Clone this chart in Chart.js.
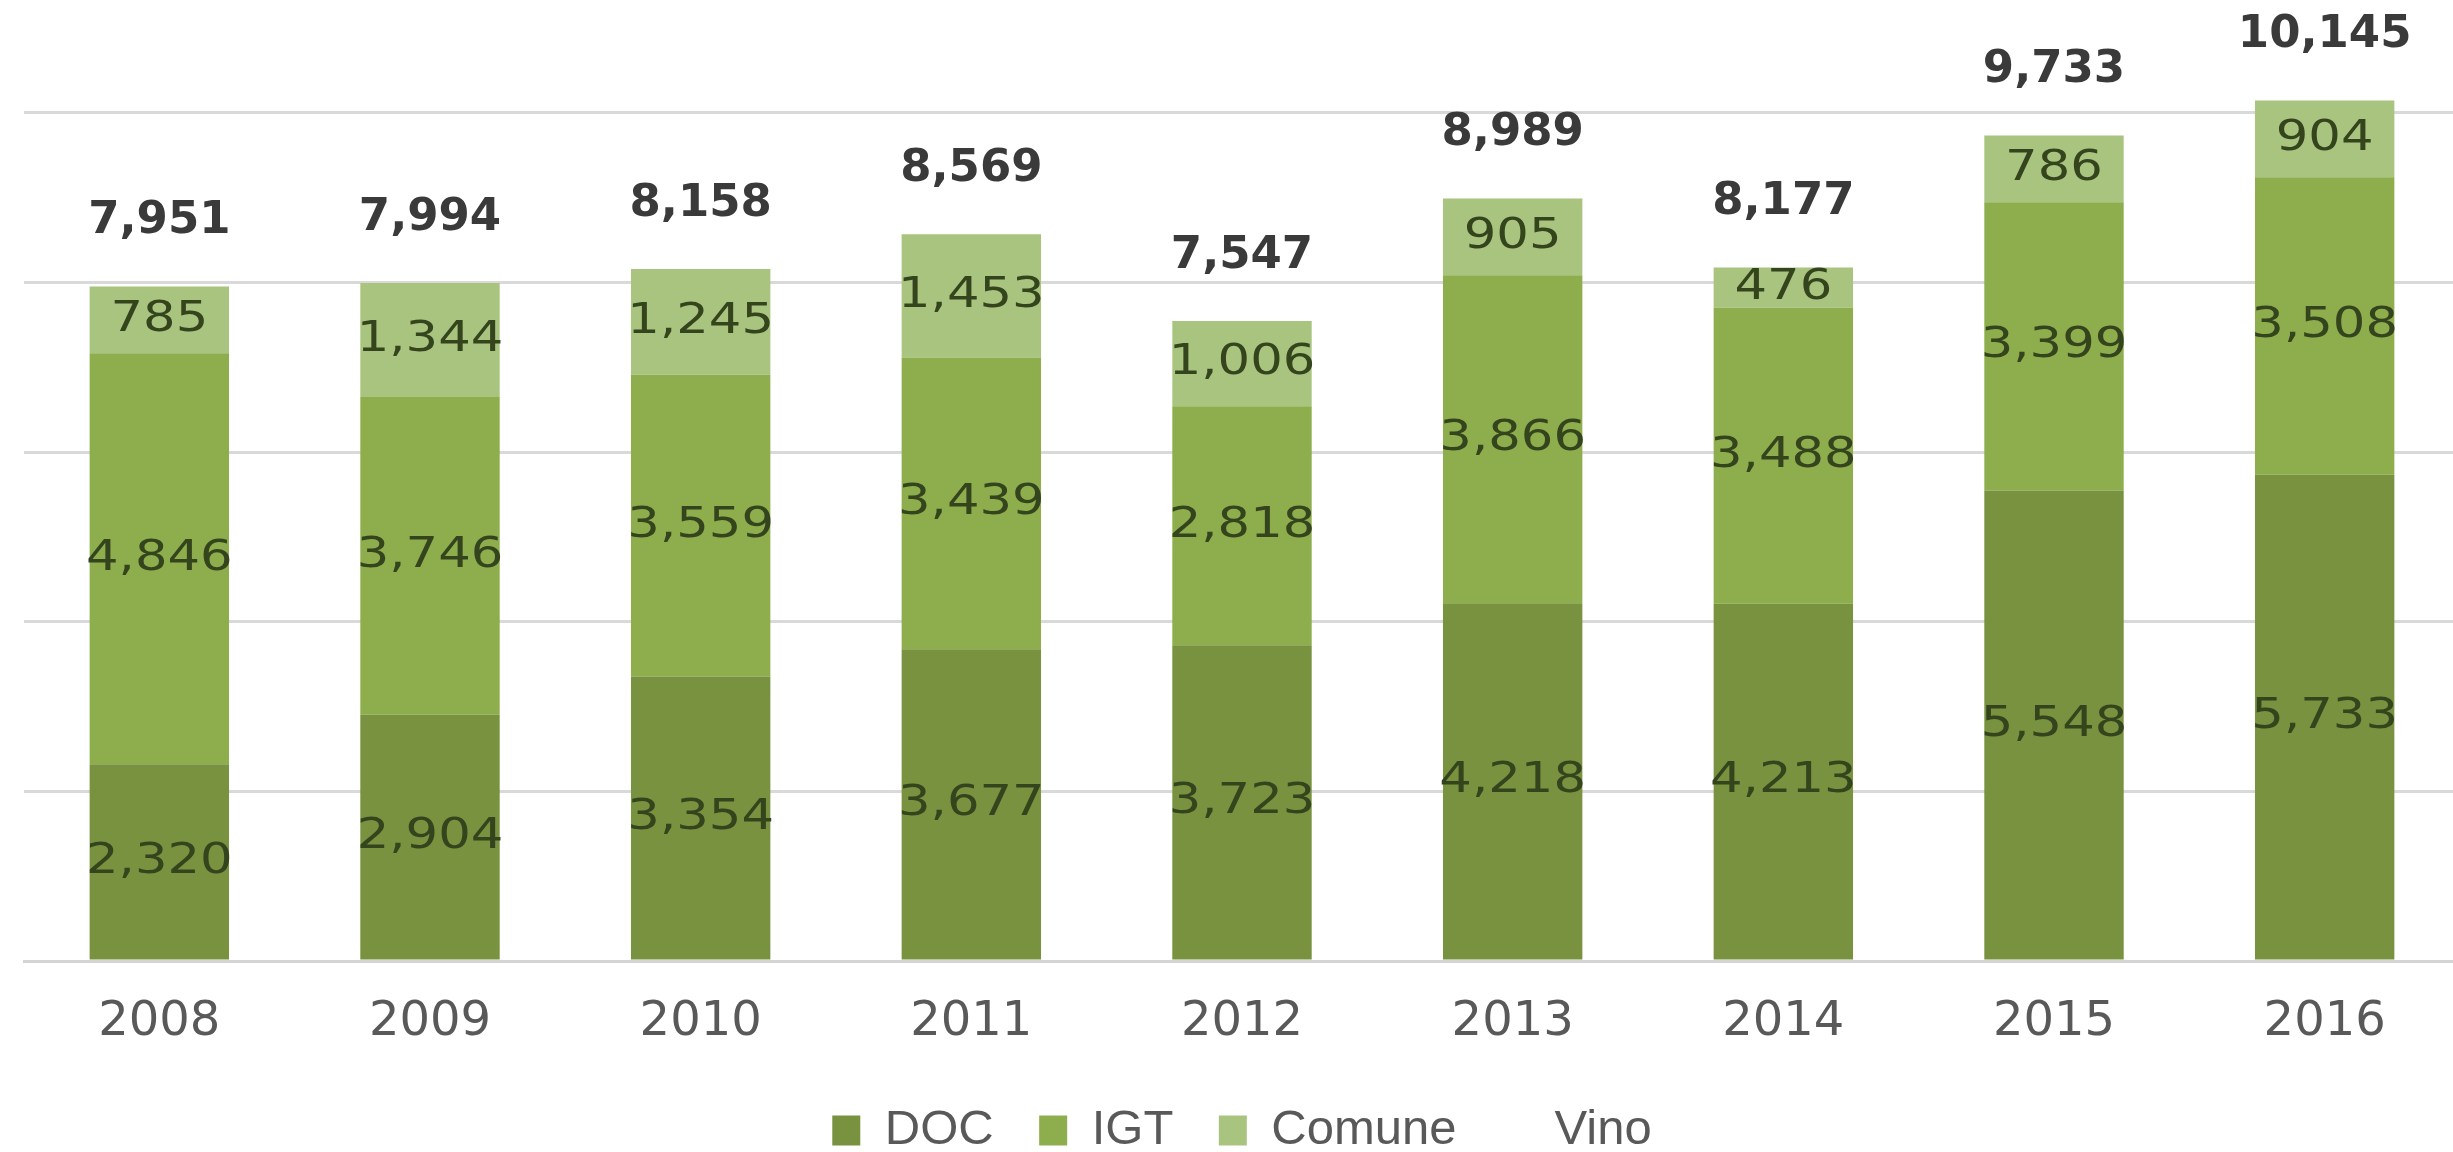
<!DOCTYPE html>
<html>
<head>
<meta charset="utf-8">
<script src="https://cdn.jsdelivr.net/npm/chart.js@4/dist/chart.umd.min.js"></script>
<style>
  html, body { margin: 0; padding: 0; overflow: hidden; background: #ffffff; }
  #wrap { position: absolute; left: 0; top: 0; width: 2460px; height: 1152px; }
</style>
</head>
<body>
<div id="wrap"><canvas id="c" width="2460" height="1152"></canvas></div>
<script>
const years = ['2008', '2009', '2010', '2011', '2012', '2013', '2014', '2015', '2016'];
const doc = [2320, 2904, 3354, 3677, 3723, 4218, 4213, 5548, 5733];
const igt = [4846, 3746, 3559, 3439, 2818, 3866, 3488, 3399, 3508];
const comune = [785, 1344, 1245, 1453, 1006, 905, 476, 786, 904];
const vino = [7951, 7994, 8158, 8569, 7547, 8989, 8177, 9733, 10145];
const seriesNames = ['DOC', 'IGT', 'Comune', 'Vino'];
const yTicks = [0, 2000, 4000, 6000, 8000, 10000];

const fmt = v => v.toLocaleString('en-US');

const labelPlugin = {
  id: 'segLabels',
  afterDatasetsDraw(chart) {
    const ctx = chart.ctx;
    ctx.save();
    ctx.textAlign = 'center';
    ctx.textBaseline = 'middle';
    chart.data.datasets.forEach((ds, di) => {
      const meta = chart.getDatasetMeta(di);
      if (meta.type === 'bar') {
        ctx.font = '42px "DejaVu Sans"';
        ctx.fillStyle = '#34441d';
        meta.data.forEach((el, i) => {
          const y = (el.y + el.base) / 2;
          ctx.save();
          ctx.translate(el.x, y);
          ctx.scale(1.22, 1);
          ctx.fillText(fmt(ds.data[i]), 0, 0);
          ctx.restore();
        });
      } else {
        ctx.font = 'bold 45px "DejaVu Sans"';
        ctx.fillStyle = '#3a3a3a';
        meta.data.forEach((el, i) => {
          ctx.fillText(fmt(ds.data[i]), el.x, el.y - 65);
        });
      }
    });
    ctx.restore();
  }
};

new Chart(document.getElementById('c'), {
  type: 'bar',
  data: {
    labels: years,
    datasets: [
      { label: seriesNames[0], data: doc, backgroundColor: '#78923f', stack: 'wine' },
      { label: seriesNames[1], data: igt, backgroundColor: '#8eae4e', stack: 'wine' },
      { label: seriesNames[2], data: comune, backgroundColor: '#a9c47e', stack: 'wine' },
      { label: seriesNames[3], data: vino, type: 'line', stack: 'total', showLine: false,
        pointRadius: 0, pointHoverRadius: 0, borderColor: 'rgba(0,0,0,0)', backgroundColor: 'rgba(0,0,0,0)' }
    ]
  },
  options: {
    responsive: false,
    animation: false,
    events: [],
    layout: { padding: { left: 24, right: 0, top: 28, bottom: -13 } },
    datasets: { bar: { categoryPercentage: 1, barPercentage: 0.515 } },
    scales: {
      x: {
        stacked: true,
        grid: { display: false, drawTicks: false },
        border: { display: true, color: '#d4d4d4', width: 3 },
        ticks: { color: '#595959', padding: 0, font: { family: '"DejaVu Sans"', size: 48, lineHeight: 2.583 } }
      },
      y: {
        stacked: true,
        min: 0,
        max: 11000,
        afterBuildTicks: scale => { scale.ticks = yTicks.map(v => ({ value: v })); },
        ticks: { display: false },
        border: { display: false },
        grid: { drawTicks: false, lineWidth: 3, color: '#d9d9d9' }
      }
    },
    plugins: {
      tooltip: { enabled: false },
      legend: {
        position: 'bottom',
        labels: {
          color: '#595959',
          boxWidth: 28,
          boxHeight: 30,
          padding: 21,
          font: { family: '"Liberation Sans"', size: 49 },
          generateLabels(chart) {
            const items = Chart.defaults.plugins.legend.labels.generateLabels(chart);
            items.forEach(it => {
              it.lineWidth = 0;
              it.strokeStyle = 'rgba(0,0,0,0)';
              if (it.datasetIndex === 3) {
                it.fillStyle = 'rgba(0,0,0,0)';
              } else {
                it.text = it.text + '\u2002';
              }
            });
            return items;
          }
        }
      }
    }
  },
  plugins: [labelPlugin]
});
</script>
</body>
</html>
